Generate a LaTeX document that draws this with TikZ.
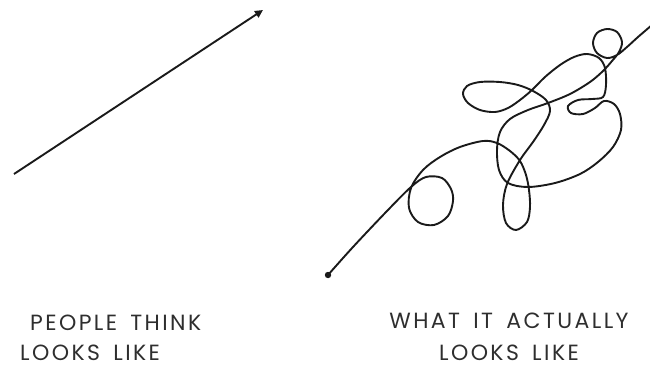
\documentclass[tikz,border=0pt]{standalone}
\usepackage{fontspec}
\usetikzlibrary{arrows.meta}
\newfontfamily\capfont[LetterSpace=11, WordSpace=1.6]{Poppins}
\definecolor{ink}{HTML}{1A1A1A}
\definecolor{txt}{HTML}{2E2E2E}
\tikzset{
  stroke/.style={draw=ink, line width=1.9pt, line cap=round, line join=round},
  lbl/.style={inner sep=0pt, text=txt, font=\capfont\fontsize{22}{24}\selectfont},
}
\begin{document}
\begin{tikzpicture}[x=1pt,y=-1pt]
\useasboundingbox (0,0) rectangle (650,367);
% straight arrow
\coordinate (a0) at (14,174);
\coordinate (a1) at (263,10);
\draw[stroke, line cap=butt, -{Triangle[length=8pt,width=7.5pt]}] (a0) -- (a1);
% squiggle
\coordinate (s0) at (328,275);
\fill[ink] (s0) circle (3.2pt);
\draw[stroke] plot[smooth, tension=0.55] coordinates {
  (328,275) (353,247) (387,211) (411,187)
  (426,177) (442,178) (451,189) (453,201) (448,216) (434,225) (418,222) (409,208) (411,188)
  (423,170) (440,157) (460,147) (483,141) (497,143) (510,151) (520,161) (526,175) (529,190)
  (530,207) (527,222) (516,230) (506,223) (503,205) (507,184) (520,160) (533,142) (544,125)
  (550,111) (546,100) (533,91) (518,85) (500,82) (480,82) (467,86) (463,94) (468,103)
  (480,110) (495,112) (508,108) (520,100) (532,90) (545,77) (560,65) (574,57) (587,54)
  (599,58) (605,68) (606,85) (603,97) (592,99) (578,100) (568,106) (571,113) (583,114)
  (595,108) (604,101) (614,104) (620,114) (621,130) (613,147) (598,162) (580,174) (555,183)
  (528,187) (508,183) (499,170) (497,150) (500,132) (510,119) (528,110) (548,103) (570,94)
  (590,82) (603,71) (612,61) (619,52) (622,42) (617,32) (607,29) (597,33) (593,43) (597,53)
  (607,58) (617,55) (627,47) (638,37) (652,25)
};
% labels
\node[lbl, anchor=base west] (t1) at (30,330) {PEOPLE THINK};
\node[lbl, anchor=base west] (t2) at (20,360) {LOOKS LIKE};
\node[lbl, anchor=base] (t3) at (509,328) {WHAT IT ACTUALLY};
\node[lbl, anchor=base] (t4) at (509,360) {LOOKS LIKE};
\end{tikzpicture}
\end{document}
